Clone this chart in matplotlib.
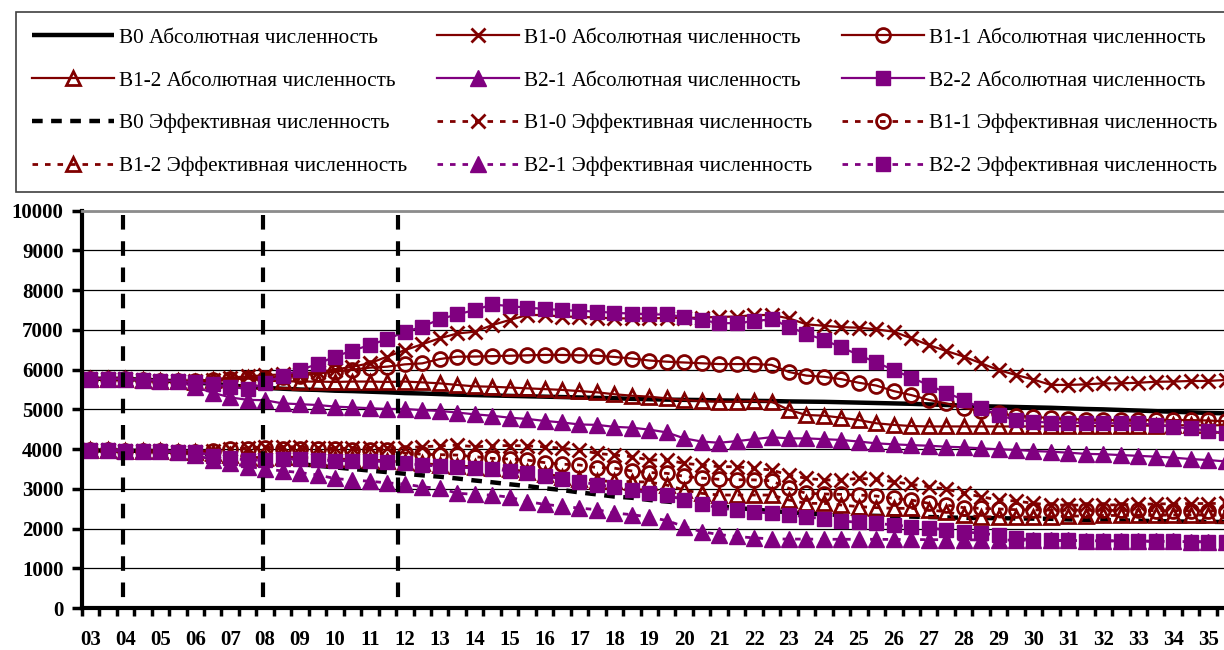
import matplotlib
matplotlib.use("Agg")
import matplotlib.pyplot as plt
from matplotlib.ticker import FixedLocator

plt.rcParams['font.family'] = ['Liberation Serif', 'DejaVu Serif']

# half-year steps from 2003 to 2035.5
N_POINTS = 66
YEAR_LABELS = ["03", "04", "05", "06", "07", "08", "09", "10", "11", "12", "13",
               "14", "15", "16", "17", "18", "19", "20", "21", "22", "23", "24",
               "25", "26", "27", "28", "29", "30", "31", "32", "33", "34", "35"]

# year marks for the three dashed verticals (04, 08, 12)
MARK_YEARS = [3.925, 7.925, 11.8]

b0_abs = [5770, 5770, 5765, 5745, 5725, 5705, 5680, 5640, 5600, 5570,
          5540, 5520, 5500, 5490, 5470, 5460, 5445, 5430, 5410, 5400,
          5385, 5370, 5360, 5350, 5340, 5330, 5320, 5310, 5300, 5290,
          5280, 5265, 5255, 5245, 5240, 5235, 5225, 5220, 5215, 5210,
          5200, 5195, 5190, 5180, 5170, 5160, 5150, 5140, 5125, 5110,
          5095, 5080, 5070, 5060, 5050, 5040, 5025, 5010, 5000, 4985,
          4970, 4955, 4940, 4925, 4910, 4900]
b10_abs = [5770, 5770, 5765, 5745, 5725, 5705, 5720, 5750, 5800, 5830,
           5860, 5880, 5900, 5940, 6000, 6075, 6160, 6330, 6490, 6640,
           6790, 6910, 6955, 7120, 7250, 7375, 7375, 7335, 7330, 7310,
           7290, 7290, 7290, 7300, 7300, 7310, 7330, 7335, 7375, 7375,
           7290, 7140, 7105, 7070, 7056, 7014, 6955, 6790, 6620, 6470,
           6330, 6160, 5990, 5865, 5750, 5615, 5615, 5630, 5655, 5655,
           5670, 5695, 5700, 5715, 5715, 5740]
b11_abs = [5770, 5770, 5765, 5745, 5725, 5705, 5720, 5740, 5760, 5780,
           5800, 5820, 5850, 5900, 5950, 6000, 6050, 6075, 6133, 6158,
           6267, 6326, 6330, 6340, 6350, 6360, 6370, 6370, 6360, 6350,
           6320, 6280, 6230, 6200, 6180, 6160, 6140, 6140, 6140, 6120,
           5940, 5850, 5820, 5760, 5670, 5600, 5460, 5360, 5240, 5150,
           5040, 4960, 4900, 4840, 4810, 4780, 4760, 4740, 4730, 4730,
           4730, 4730, 4730, 4730, 4720, 4700]
b12_abs = [5770, 5770, 5765, 5745, 5725, 5705, 5700, 5730, 5760, 5780,
           5720, 5710, 5700, 5700, 5690, 5700, 5700, 5690, 5700, 5680,
           5655, 5615, 5580, 5570, 5550, 5530, 5510, 5490, 5460, 5430,
           5380, 5345, 5320, 5277, 5236, 5210, 5194, 5194, 5210, 5194,
           4984, 4858, 4841, 4790, 4730, 4650, 4610, 4580, 4570, 4570,
           4570, 4570, 4570, 4570, 4570, 4570, 4580, 4580, 4580, 4590,
           4590, 4590, 4600, 4600, 4600, 4600]
b21_abs = [5770, 5770, 5765, 5745, 5725, 5705, 5560, 5420, 5300, 5240,
           5230, 5150, 5130, 5110, 5070, 5050, 5030, 5010, 5010, 4980,
           4960, 4920, 4875, 4840, 4790, 4760, 4710, 4670, 4620, 4610,
           4560, 4540, 4490, 4420, 4270, 4190, 4160, 4200, 4250, 4300,
           4270, 4270, 4250, 4230, 4190, 4145, 4120, 4100, 4085, 4060,
           4045, 4020, 3995, 3980, 3950, 3935, 3910, 3880, 3870, 3850,
           3830, 3810, 3785, 3750, 3725, 3690]
b22_abs = [5770, 5770, 5765, 5745, 5725, 5705, 5690, 5630, 5570, 5510,
           5660, 5850, 5990, 6140, 6330, 6480, 6620, 6770, 6950, 7080,
           7270, 7390, 7500, 7640, 7600, 7560, 7530, 7500, 7480, 7460,
           7430, 7410, 7390, 7390, 7320, 7250, 7170, 7170, 7220, 7270,
           7080, 6900, 6750, 6560, 6370, 6180, 5990, 5800, 5610, 5420,
           5240, 5030, 4860, 4730, 4690, 4665, 4665, 4665, 4650, 4650,
           4650, 4610, 4560, 4520, 4460, 4400]

b0_eff = [3965, 3965, 3960, 3955, 3945, 3930, 3900, 3850, 3800, 3750,
          3700, 3660, 3620, 3580, 3540, 3500, 3460, 3420, 3380, 3340,
          3305, 3260, 3210, 3165, 3115, 3070, 3015, 2970, 2910, 2860,
          2805, 2775, 2720, 2680, 2640, 2600, 2560, 2520, 2480, 2440,
          2410, 2380, 2360, 2340, 2330, 2320, 2310, 2300, 2290, 2280,
          2270, 2265, 2260, 2255, 2250, 2245, 2230, 2220, 2215, 2205,
          2195, 2190, 2180, 2175, 2170, 2165]
b10_eff = [3965, 3965, 3960, 3955, 3945, 3930, 3930, 3960, 4000, 4030,
           4060, 4060, 4060, 4040, 4020, 4020, 4020, 4020, 4040, 4060,
           4080, 4100, 4060, 4080, 4090, 4080, 4060, 4020, 3976, 3893,
           3850, 3809, 3725, 3725, 3641, 3600, 3557, 3557, 3515, 3473,
           3347, 3263, 3221, 3225, 3264, 3239, 3180, 3113, 3054, 2995,
           2886, 2802, 2718, 2693, 2635, 2595, 2590, 2590, 2590, 2600,
           2610, 2620, 2625, 2630, 2630, 2635]
b11_eff = [3965, 3965, 3960, 3955, 3945, 3930, 3930, 3950, 3990, 4010,
           4020, 4000, 4000, 3990, 3990, 3980, 3980, 3970, 3900, 3870,
           3860, 3850, 3809, 3767, 3750, 3725, 3660, 3620, 3600, 3535,
           3520, 3450, 3410, 3390, 3315, 3270, 3240, 3230, 3225, 3200,
           3012, 2886, 2870, 2860, 2844, 2819, 2760, 2718, 2635, 2592,
           2526, 2509, 2492, 2475, 2470, 2465, 2465, 2460, 2460, 2455,
           2455, 2450, 2450, 2445, 2445, 2440]
b12_eff = [3965, 3965, 3960, 3955, 3945, 3930, 3930, 3900, 3850, 3800,
           3780, 3800, 3790, 3770, 3750, 3740, 3730, 3700, 3670, 3640,
           3600, 3570, 3560, 3530, 3490, 3430, 3370, 3310, 3250, 3200,
           3190, 3180, 3170, 3095, 2970, 2886, 2844, 2844, 2844, 2844,
           2718, 2634, 2634, 2592, 2551, 2526, 2509, 2509, 2467, 2425,
           2330, 2300, 2290, 2290, 2290, 2300, 2310, 2320, 2330, 2330,
           2335, 2335, 2340, 2340, 2340, 2340]
b21_eff = [3965, 3965, 3960, 3955, 3945, 3930, 3850, 3730, 3640, 3560,
           3500, 3450, 3410, 3350, 3260, 3220, 3190, 3150, 3120, 3050,
           3010, 2890, 2860, 2840, 2790, 2680, 2610, 2560, 2515, 2475,
           2390, 2350, 2290, 2200, 2050, 1920, 1850, 1800, 1765, 1740,
           1735, 1735, 1730, 1730, 1730, 1730, 1725, 1725, 1720, 1720,
           1715, 1715, 1710, 1710, 1705, 1700, 1700, 1695, 1690, 1690,
           1685, 1680, 1675, 1670, 1665, 1660]
b22_eff = [3965, 3965, 3960, 3955, 3945, 3930, 3935, 3834, 3767, 3725,
           3720, 3740, 3750, 3725, 3708, 3708, 3700, 3683, 3641, 3599,
           3570, 3540, 3530, 3500, 3450, 3390, 3320, 3255, 3180, 3105,
           3053, 2970, 2895, 2844, 2718, 2620, 2515, 2467, 2425, 2383,
           2341, 2299, 2240, 2190, 2156, 2131, 2089, 2047, 2022, 1963,
           1921, 1879, 1837, 1754, 1712, 1700, 1700, 1695, 1690, 1690,
           1685, 1680, 1675, 1670, 1665, 1660]

DARKRED = "#800000"
PURPLE = "#800080"

x = [3 + 0.5 * i for i in range(N_POINTS)]

fig = plt.figure(figsize=(12.24, 6.5), dpi=100)
ax = fig.add_axes([0.0668, 0.0646, 0.9332, 0.6112])

eff_dash = (2.0, 2.5)

# absolute numbers - solid lines
h_b0a, = ax.plot(x, b0_abs, color="black", lw=3.2, solid_capstyle="butt",
                 label="B0 Абсолютная численность")
h_b10a, = ax.plot(x, b10_abs, color=DARKRED, lw=1.6, marker="x", ms=10, mew=2,
                  label="B1-0 Абсолютная численность")
h_b11a, = ax.plot(x, b11_abs, color=DARKRED, lw=1.6, marker="o", ms=10, mew=2,
                  mfc="none", label="B1-1 Абсолютная численность")
h_b12a, = ax.plot(x, b12_abs, color=DARKRED, lw=1.6, marker="^", ms=10, mew=2,
                  mfc="none", label="B1-2 Абсолютная численность")
h_b21a, = ax.plot(x, b21_abs, color=PURPLE, lw=1.6, marker="^", ms=11, mew=1,
                  label="B2-1 Абсолютная численность")
h_b22a, = ax.plot(x, b22_abs, color=PURPLE, lw=1.6, marker="s", ms=10.5, mew=1,
                  label="B2-2 Абсолютная численность")

# effective numbers - dashed lines
h_b0e, = ax.plot(x, b0_eff, color="black", lw=3.2, dashes=(2.4, 1.9),
                 dash_capstyle="butt", label="B0 Эффективная численность")
h_b10e, = ax.plot(x, b10_eff, color=DARKRED, lw=2, dashes=eff_dash, marker="x",
                  ms=10, mew=2, label="B1-0 Эффективная численность")
h_b11e, = ax.plot(x, b11_eff, color=DARKRED, lw=2, dashes=eff_dash, marker="o",
                  ms=10, mew=2, mfc="none", label="B1-1 Эффективная численность")
h_b12e, = ax.plot(x, b12_eff, color=DARKRED, lw=2, dashes=eff_dash, marker="^",
                  ms=10, mew=2, mfc="none", label="B1-2 Эффективная численность")
h_b21e, = ax.plot(x, b21_eff, color=PURPLE, lw=2, dashes=eff_dash, marker="^",
                  ms=11, mew=1, label="B2-1 Эффективная численность")
h_b22e, = ax.plot(x, b22_eff, color=PURPLE, lw=2, dashes=eff_dash, marker="s",
                  ms=10.5, mew=1, label="B2-2 Эффективная численность")

# dashed year markers on top of the series
for xm in MARK_YEARS:
    ax.plot([xm, xm], [9880, 0], color="black", lw=3, dashes=(3.5, 2.8),
            dash_capstyle="butt", zorder=10, clip_on=False)

ax.set_ylim(0, 10000)
ax.set_xlim(2.75, 35.455)

ax.set_yticks(range(0, 10001, 1000))
ax.yaxis.grid(True, color="black", lw=0.9)
ax.set_axisbelow(True)
ax.tick_params(axis="y", direction="out", length=7, width=2.5, pad=6,
               labelsize=15)

years = list(range(3, 36))
ax.xaxis.set_major_locator(FixedLocator(years))
ax.set_xticklabels(YEAR_LABELS)
ax.xaxis.set_minor_locator(FixedLocator([2.75 + 0.5 * k for k in range(66)]))
ax.tick_params(axis="x", which="major", length=0, pad=16, labelsize=15)
ax.tick_params(axis="x", which="minor", direction="out", length=6, width=2.5)
for lbl in ax.get_xticklabels() + ax.get_yticklabels():
    lbl.set_fontweight("bold")

for side in ("left", "bottom"):
    ax.spines[side].set_linewidth(3)
    ax.spines[side].set_color("black")
ax.spines["top"].set_color("#8c8c8c")
ax.spines["top"].set_linewidth(2)
ax.spines["right"].set_visible(False)

# legend filled column by column: reorder so rows read across
handles = [h_b0a, h_b12a, h_b0e, h_b12e,
           h_b10a, h_b21a, h_b10e, h_b21e,
           h_b11a, h_b22a, h_b11e, h_b22e]
leg = fig.legend(handles=handles, labels=[h.get_label() for h in handles],
                 loc="upper left", bbox_to_anchor=(16 / 1224, 1 - 12 / 650),
                 borderaxespad=0, ncol=3, fontsize=15.3, frameon=True,
                 fancybox=False, edgecolor="#404040", framealpha=1,
                 borderpad=0.75, handlelength=3.86, handletextpad=0.24,
                 columnspacing=1.4, labelspacing=1.08, numpoints=1)
leg.get_frame().set_linewidth(1.2)

fig.savefig("out.png", dpi=100)
